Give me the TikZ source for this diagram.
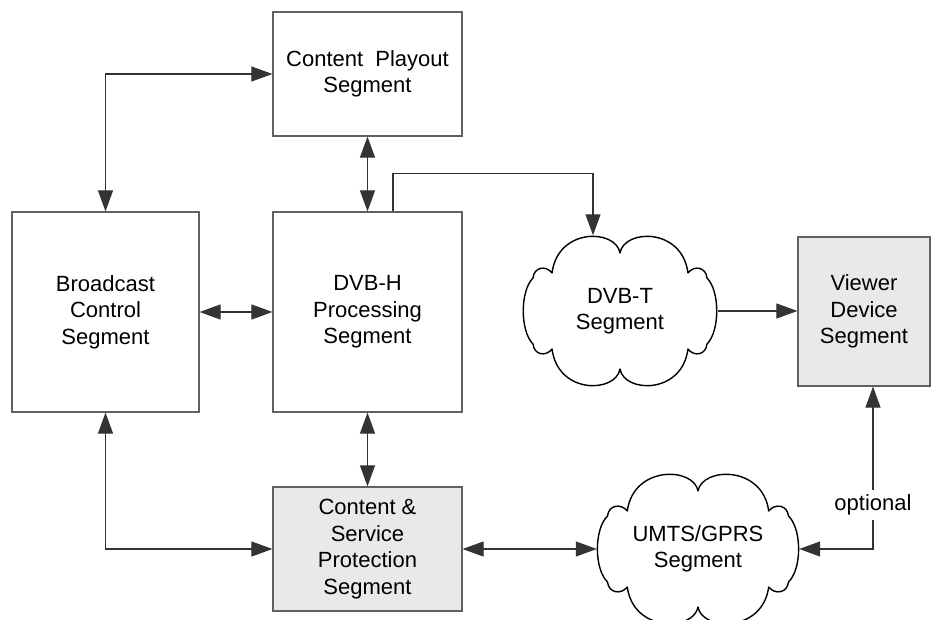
\documentclass[tikz,border=0pt]{standalone}
\usepackage{fontspec}
\setmainfont{Liberation Sans}
\usetikzlibrary{arrows.meta}
\colorlet{bdx}{gray!75!black}
\colorlet{lnx}{black!80}
\colorlet{shx}{gray!17}

\tikzset{
    cloudy/.pic={
        \draw [line width=1.4pt,line join=round]
            (0,-58) .. controls (-4,-82) and (-62,-84) .. (-68,-38)
            .. controls (-74,-46) and (-86,-44) .. (-87,-33)
            .. controls (-100,-20) and (-100,20) .. (-87,33)
            .. controls (-86,44) and (-74,46) .. (-68,38)
            .. controls (-62,84) and (-4,82) .. (0,58)
            .. controls (4,82) and (62,84) .. (68,38)
            .. controls (74,46) and (86,44) .. (87,33)
            .. controls (100,20) and (100,-20) .. (87,-33)
            .. controls (86,-44) and (74,-46) .. (68,-38)
            .. controls (62,-84) and (4,-82) .. cycle;
    }
}

\begin{document}
\begin{tikzpicture}[x=1pt,y=-1pt,
        >={Triangle[length=21pt,width=15pt]},
        txt/.style={align=center,inner sep=0pt,text=black,font=\fontsize{22}{26.5}\selectfont},
        seg/.style={txt,draw=bdx,line width=1.2pt},
        segg/.style={seg,fill=shx},
        lnk/.style={lnx,line width=1.1pt}
    ]
        \useasboundingbox (0,0) rectangle (935,620);

        \node [seg,minimum width=189pt,minimum height=124pt] (cp) at (367.5,74) {Content~~Playout\\Segment};
        \node [seg,minimum width=187pt,minimum height=200pt] (bc) at (105.5,312) {Broadcast\\Control\\Segment};
        \node [seg,minimum width=189pt,minimum height=200pt] (dh) at (367.5,312) {DVB-H\\Processing\\Segment};
        \node [segg,minimum width=189pt,minimum height=124pt] (csp) at (367.5,549) {Content \&\\Service\\Protection\\Segment};
        \node [segg,minimum width=132pt,minimum height=149pt] (vd) at (864,311.5) {Viewer\\Device\\Segment};

        % clouds
        \node [txt,minimum width=195pt,minimum height=151pt] (dt) at (620,311) {DVB-T\\Segment};
        \pic at (dt.center) {cloudy};
        \node [txt,minimum width=202pt,minimum height=150pt] (ug) at (698,549) {UMTS/GPRS\\Segment};
        \pic [xscale=1.04] at (ug.center) {cloudy};

        \draw [lnk,<->] (cp.west) -| (bc.north);
        \draw [lnk,<->] (cp.south) -- (dh.north);
        \draw [lnk,<->] (bc.east) -- (dh.west);
        \draw [lnk,->] ([xshift=25.5pt]dh.north) -- ++(0,-38) -| ([xshift=-27pt]dt.north);
        \draw [lnk,->] (dt.east) -- (dt.east -| vd.west);
        \draw [lnk,<->] (dh.south) -- (csp.north);
        \draw [lnk,<->] (bc.south) |- (csp.west);
        \draw [lnk,<->] (csp.east) -- (ug.west);
        \draw [lnk,<->] (ug.east) -| ([xshift=9pt]vd.south)
            node [txt,pos=0.635,fill=white,inner xsep=1pt,inner ysep=5pt] (opt) {optional};
    \end{tikzpicture}
\end{document}
